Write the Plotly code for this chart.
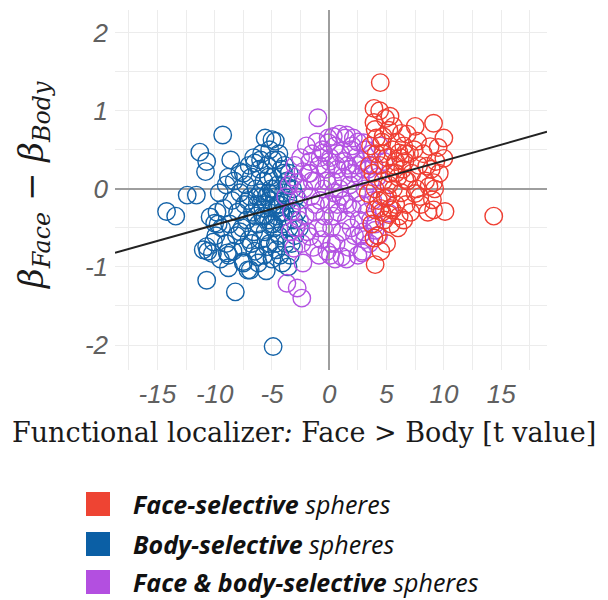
import plotly.graph_objects as go

# ---------------- data ----------------
body_x = [-14.2, -13.4, -12.4, -11.6, -11.3, -10.7, -10.8, -9.3, -8.6, -5.6, -5.0, -4.7, -7.8, -6.0, -4.5,
          -10.7, -8.2, -4.9, -10.6, -8.8, -6.9, -4.1, -11.0, -10.1, -8.9, -7.5, -6.3, -5.4, -4.6,
          -10.4, -10.0, -10.7, -10.2, -8.8, -7.5, -7.1, -7.5, -6.5, -4.9, -4.0, -3.7,
          -9.6, -9.2, -9.0, -8.7, -8.5, -8.3, -8.1, -8.0, -7.8, -7.6, -7.5, -7.4, -7.3, -7.2, -7.0,
          -6.9, -6.8, -6.7, -6.6, -6.5, -6.4, -6.3, -6.2, -6.1, -6.0, -5.9, -5.8, -5.7, -5.6, -5.5,
          -5.4, -5.3, -5.2, -5.1, -5.0, -4.9, -4.8, -4.7, -4.6, -4.5, -4.4, -4.3, -4.2, -4.1, -4.0,
          -3.9, -3.8, -3.7, -3.6, -3.5, -3.4, -3.3, -3.2, -3.1, -3.0, -2.9, -2.8, -2.6, -5.9, -5.2,
          -4.4, -6.6, -7.0, -8.8, -9.4, -9.8, -6.2, -5.7, -5.0, -4.3, -3.6, -5.5, -6.0, -5.3, -4.7,
          -4.2, -3.9, -6.8, -7.8, -8.4, -9.0, -9.5, -3.3, -4.9, -5.6, -6.4, -7.1, -5.3, -4.5, -3.5,
          -9.9, -9.7, -5.2, -4.6, -5.8, -4.0, -6.3, -5.1, -4.8, -5.5]
body_y = [-0.29, -0.35, -0.08, -0.08, 0.47, 0.35, 0.22, 0.69, 0.37, 0.65, 0.63, 0.61, 0.22, 0.37, 0.37,
          -1.17, -1.32, -2.02, -0.80, -1.01, -1.04, -0.95, -0.78, -0.68, -0.82, -0.93, -0.87, -0.74, -0.78,
          -0.36, -0.44, -0.74, -0.83, -0.85, -0.95, -1.04, 0.20, 0.33, 0.37, 0.20, 0.03,
          -0.05, -0.25, 0.05, -0.45, -0.15, 0.10, -0.60, -0.30, -0.05, -0.50, -0.75, -0.20, 0.05, -0.40, -0.65,
          -0.10, 0.15, -0.30, -0.55, -0.80, 0.00, -0.20, -0.45, 0.25, -0.65, -0.10, -0.35, 0.10, -0.55, -0.20,
          0.30, -0.40, -0.70, 0.00, -0.25, 0.15, -0.50, -0.10, -0.35, 0.05, -0.60, -0.20, 0.25, -0.45, -0.05,
          -0.30, -0.70, 0.10, -0.15, -0.50, -0.85, -0.25, 0.00, -0.40, -0.60, -0.10, -0.30, -0.50, 0.45, 0.50,
          0.45, 0.40, 0.30, 0.15, -0.50, -0.30, -0.95, -0.85, -0.90, -0.85, -1.00, -1.05, -0.05, 0.15, -0.70,
          -0.30, 0.30, -0.70, -0.55, -0.80, -0.70, -0.90, -0.70, -0.45, -0.35, -0.35, -0.15, -0.05, -0.20, 0.20,
          -0.60, -0.45, -0.15, -0.25, -0.25, -0.35, -0.10, -0.45, 0.00, -0.10]

both_x = [-1.0, -3.7, -2.8, -2.4, 0.1, 1.1, 2.5, -1.7, -3.1,
          0.35, 1.5, 2.1, -0.1, 3.0, -0.5, -2.3, -1.7, -2.7, 2.85, 4.0, 3.1, 5.2,
          -3.5, -3.3, -3.0, -2.9, -2.7, -2.5, -2.4, -2.2, -2.1, -2.0, -1.9, -1.8, -1.6, -1.5, -1.4,
          -1.3, -1.2, -1.1, -1.0, -0.9, -0.8, -0.7, -0.6, -0.5, -0.4, -0.3, -0.2, -0.1, 0.0, 0.1,
          0.2, 0.3, 0.4, 0.5, 0.6, 0.7, 0.8, 0.9, 1.0, 1.1, 1.2, 1.3, 1.4, 1.5, 1.6, 1.7, 1.8,
          1.9, 2.0, 2.1, 2.2, 2.3, 2.4, 2.5, 2.6, 2.7, 2.8, 2.9, 3.0, 3.1, 3.2, 3.3, 3.4, 3.5,
          3.6, 3.7, 3.8, 3.9, 4.0, 4.2, 4.4, 4.6, 4.8, -0.5, 0.3, 1.0, 1.6, 0.6, -0.2, 0.9, 2.0,
          -1.5, -0.8, 0.0, 1.3, 2.4, -2.6, -1.2, 0.2, 1.9, 3.0, -3.4, -3.8, -2.3, -0.9, 0.5, 1.5,
          2.9, 4.3, -3.1, -1.7, 0.7, 1.8, 2.7, 3.6]
both_y = [0.91, -1.21, -1.27, -1.40, -0.85, -0.87, -0.85, -0.61, -0.76,
          0.67, 0.69, 0.65, 0.59, 0.59, 0.46, 0.22, 0.20, 0.08, -0.82, -0.53, -0.65, -0.31,
          0.05, -0.30, 0.30, -0.50, -0.15, 0.40, -0.70, 0.00, -0.35, 0.55, -0.55, 0.20, -0.10, 0.45, -0.75,
          -0.30, 0.10, 0.60, -0.50, 0.30, -0.15, -0.65, 0.50, 0.00, -0.35, 0.25, -0.80, 0.65, -0.20, 0.40,
          -0.50, 0.10, -0.05, 0.55, -0.70, 0.25, -0.30, 0.00, 0.45, -0.55, 0.15, -0.15, 0.65, -0.40, 0.30, -0.75, 0.05,
          0.50, -0.25, 0.20, -0.60, 0.40, -0.05, 0.60, -0.40, 0.15, -0.20, 0.35, -0.55, 0.00, 0.50, -0.30, 0.25, -0.70,
          0.10, 0.45, -0.15, 0.30, -0.45, 0.15, 0.55, -0.10, 0.35, -0.50, -0.35, -0.10, -0.20, 0.30, 0.10, 0.70, 0.55,
          0.10, 0.40, 0.35, 0.35, 0.30, -0.40, -0.20, -0.70, -0.50, 0.25, -0.55, -0.10, -0.95, -0.85, -0.90, -0.90,
          -0.80, -0.60, 0.15, 0.35, -0.20, 0.25, -0.60, -0.40]

face_x = [4.45, 3.9, 5.3, 7.5, 9.1, 10.0, 9.5, 8.8, 7.7, 6.3, 4.0, 4.7, 9.3, 10.0, 6.6, 6.1,
          14.35, 10.1, 9.1, 9.0, 7.9, 6.5, 4.0, 3.9, 4.0, 4.9, 5.5, 8.7, 7.5, 9.1, 6.6, 5.8, 8.5,
          3.4, 4.45, 5.2,
          3.6, 3.8, 4.0, 4.1, 4.3, 4.4, 4.6, 4.7, 4.8, 5.0, 5.1, 5.2, 5.3, 5.4, 5.5, 5.6, 5.7,
          5.8, 5.9, 6.0, 6.1, 6.2, 6.3, 6.4, 6.5, 6.7, 6.8, 7.0, 7.1, 7.2, 7.4, 7.6, 7.8, 8.0,
          8.2, 8.4, 8.6, 8.9, 9.2, 9.6, 4.2, 4.5, 3.7, 5.0, 4.9, 4.4, 3.9, 5.6, 6.8, 4.6, 5.3,
          6.0, 3.5, 4.1, 4.7, 5.8, 5.2, 6.6]
face_y = [1.36, 1.03, 0.93, 0.80, 0.84, 0.65, 0.53, 0.54, 0.61, 0.71, 0.76, 0.67, 0.35, 0.39, 0.35, 0.46,
          -0.35, -0.29, -0.27, -0.14, -0.10, -0.40, -0.97, -0.63, -0.27, -0.12, -0.27, 0.03, -0.06, 0.08, 0.12, 0.20, 0.29,
          -0.06, -0.25, -0.33,
          0.55, 0.20, 0.00, 0.45, -0.15, 0.30, 0.60, 0.10, -0.40, 0.40, -0.10, 0.75, 0.20, -0.45, 0.50, 0.00, 0.30,
          -0.20, 0.60, 0.15, -0.35, 0.40, -0.05, 0.25, 0.55, -0.20, 0.10, 0.45, -0.30, 0.20, 0.50, 0.00, 0.30, -0.20,
          0.45, 0.10, -0.30, 0.25, 0.00, 0.20, -0.60, -0.80, -0.45, -0.70, 0.90, 1.00, 0.85, 0.80, 0.70, -0.30, -0.25,
          -0.50, 0.30, 0.65, 0.45, 0.35, 0.05, 0.45]

fit_x = [-18.7, 19.0]
fit_y = [-0.82, 0.73]

x_tick_vals = [-15, -10, -5, 0, 5, 10, 15]
x_tick_text = ["-15", "-10", "-5", "0", "5", "10", "15"]
x_minor_vals = [-17.5, -12.5, -7.5, -2.5, 2.5, 7.5, 12.5, 17.5]
y_tick_vals = [-2, -1, 0, 1, 2]
y_tick_text = ["-2", "-1", "0", "1", "2"]
y_minor_vals = [-1.5, -0.5, 0.5, 1.5]

legend_labels = ["<b><i>Face-selective</i></b><i> spheres</i>",
                 "<b><i>Body-selective</i></b><i> spheres</i>",
                 "<b><i>Face &amp; body-selective</i></b><i> spheres</i>"]
legend_colors = ["#ee4433", "#0b5fa5", "#b34fe0"]

# ---------------- figure ----------------
# the page body has an 8px margin, so the figure is offset by 8px
OFF = 8
W, H = 600, 592
L, R, T, B = 107, 61, 2, 230
PW, PH = W - L - R, H - T - B


def px(xp):
    # page pixel -> paper coordinate
    return (xp - OFF - L) / PW


def py(yp):
    return (H - B - (yp - OFF)) / PH


fig = go.Figure()


def add_points(xs, ys, color):
    fig.add_trace(go.Scatter(
        x=xs, y=ys, mode="markers", showlegend=False, hoverinfo="skip",
        marker=dict(symbol="circle", size=17.5, color="rgba(0,0,0,0)",
                    line=dict(color=color, width=1.4))))


add_points(body_x, body_y, "#1463a8")
add_points(both_x, both_y, "#b352e2")
add_points(face_x, face_y, "#ef3e32")

fig.add_trace(go.Scatter(x=fit_x, y=fit_y, mode="lines", showlegend=False,
                         hoverinfo="skip", line=dict(color="#222222", width=2)))

tick_font = dict(family="Liberation Sans", size=26, color="#606060", style="italic")
grid = dict(showgrid=True, gridcolor="#ececec", gridwidth=1.2)

fig.update_xaxes(range=[-18.7, 19.0], tickmode="array", tickvals=x_tick_vals, ticktext=x_tick_text,
                 minor=dict(tickmode="array", tickvals=x_minor_vals, **grid), **grid,
                 zeroline=True, zerolinecolor="#9e9e9e", zerolinewidth=2,
                 showline=False, ticks="", tickfont=tick_font, ticklabelstandoff=6)
fig.update_yaxes(range=[-2.32, 2.29], tickmode="array", tickvals=y_tick_vals, ticktext=y_tick_text,
                 minor=dict(tickmode="array", tickvals=y_minor_vals, **grid), **grid,
                 zeroline=True, zerolinecolor="#9e9e9e", zerolinewidth=2,
                 showline=False, ticks="", tickfont=tick_font, ticklabelstandoff=6)

annotations = [
    dict(text="Functional localizer<i>:</i> Face &gt; Body [t value]",
         xref="paper", yref="paper", x=px(304), y=py(432), xanchor="center", yanchor="middle",
         showarrow=False, font=dict(family="DejaVu Serif", size=27, color="#1a1a1a")),
    dict(text="<i>β</i><sub><i>Face</i></sub> − <i>β</i><sub><i>Body</i></sub>",
         xref="paper", yref="paper", x=px(33), y=py(186), xanchor="center", yanchor="middle",
         textangle=-90, showarrow=False,
         font=dict(family="DejaVu Serif", size=34, color="#1a1a1a")),
]
shapes = []
row_y = [504, 544, 582]
for lab, col, yc in zip(legend_labels, legend_colors, row_y):
    shapes.append(dict(type="rect", xref="paper", yref="paper",
                       x0=px(86), x1=px(110), y0=py(yc + 12), y1=py(yc - 12),
                       fillcolor=col, line=dict(width=0)))
    annotations.append(dict(text=lab, xref="paper", yref="paper", x=px(131), y=py(yc),
                            xanchor="left", yanchor="middle", showarrow=False,
                            font=dict(family="Open Sans", size=25, color="#111111")))

fig.update_layout(width=W, height=H, autosize=False,
                  margin=dict(l=L, r=R, t=T, b=B),
                  paper_bgcolor="white", plot_bgcolor="white",
                  annotations=annotations, shapes=shapes)

fig.write_html("out.html")
